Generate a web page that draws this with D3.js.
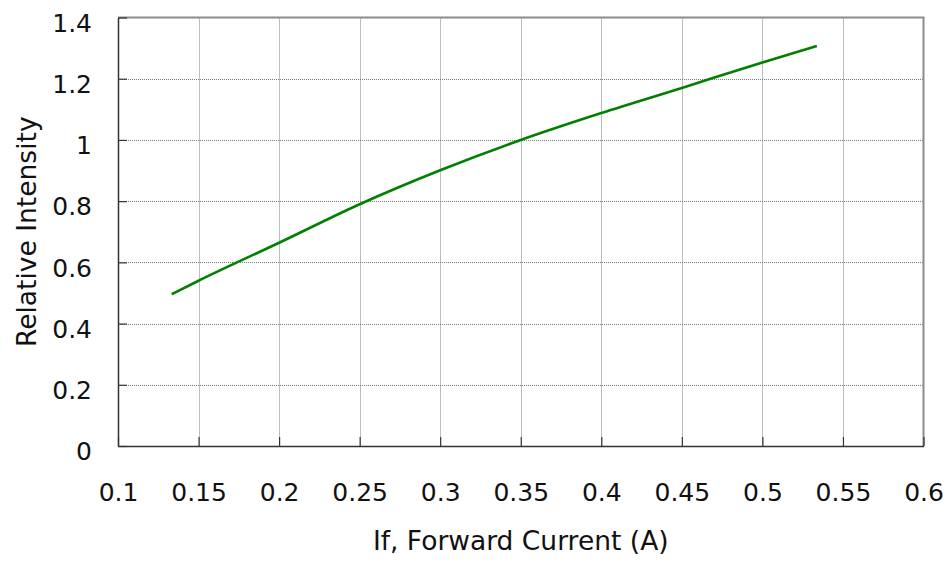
<!DOCTYPE html>
<html>
<head>
<meta charset="utf-8">
<script src="https://cdn.jsdelivr.net/npm/d3@7"></script>
<style>
  html, body { margin: 0; padding: 0; background: #fff; }
  svg { display: block; }
  text { font-family: "DejaVu Sans", Verdana, sans-serif; fill: #111; }
</style>
</head>
<body>
<svg id="chart" width="952" height="561"></svg>
<script>
// Forward current (A) vs. relative luminous intensity
const currentA = [0.1333, 0.15, 0.2, 0.25, 0.3, 0.35, 0.4, 0.45, 0.5, 0.5338];
const intensity = [0.496, 0.540, 0.664, 0.790, 0.901, 1.000, 1.088, 1.170, 1.253, 1.307];

const xTicks = [0.1, 0.15, 0.2, 0.25, 0.3, 0.35, 0.4, 0.45, 0.5, 0.55, 0.6];
const xTickLabels = ["0.1", "0.15", "0.2", "0.25", "0.3", "0.35", "0.4", "0.45", "0.5", "0.55", "0.6"];
const yTicks = [0, 0.2, 0.4, 0.6, 0.8, 1, 1.2, 1.4];
const yTickLabels = ["0", "0.2", "0.4", "0.6", "0.8", "1", "1.2", "1.4"];

const xTitle = "If, Forward Current (A)";
const yTitle = "Relative Intensity";

const svg = d3.select("#chart");
const plotLeft = 118, plotRight = 923.5, plotTop = 17.5, plotBottom = 446;

const x = d3.scaleLinear().domain([0.1, 0.6]).range([plotLeft, plotRight]);
const y = d3.scaleLinear().domain([0, 1.4]).range([plotBottom, plotTop]);

// dotted grid
const grid = svg.append("g");
grid.selectAll("line.gx").data(xTicks.slice(1, -1)).join("line")
  .attr("x1", d => Math.round(x(d)) + 0.5).attr("x2", d => Math.round(x(d)) + 0.5)
  .attr("y1", plotTop).attr("y2", plotBottom)
  .attr("stroke", "#7a7a7a").attr("stroke-width", 1).attr("stroke-dasharray", "1,1");
grid.selectAll("line.gy").data(yTicks.slice(1, -1)).join("line")
  .attr("y1", d => Math.round(y(d)) + 0.5).attr("y2", d => Math.round(y(d)) + 0.5)
  .attr("x1", plotLeft).attr("x2", plotRight)
  .attr("stroke", "#7a7a7a").attr("stroke-width", 1).attr("stroke-dasharray", "1,1");

// top and right frame
svg.append("path")
  .attr("d", `M${plotLeft},${plotTop}H${plotRight}V${plotBottom}`)
  .attr("fill", "none").attr("stroke", "#8c8c8c").attr("stroke-width", 2);

// axes with inward ticks
const xAxis = d3.axisBottom(x).tickValues(xTicks)
  .tickFormat((d, i) => xTickLabels[i]).tickSizeInner(-9).tickSizeOuter(0).tickPadding(0);
const yAxis = d3.axisLeft(y).tickValues(yTicks)
  .tickFormat((d, i) => yTickLabels[i]).tickSizeInner(-9).tickSizeOuter(0).tickPadding(0);

const gx = svg.append("g").attr("transform", `translate(0,${plotBottom})`).call(xAxis);
gx.select(".domain").attr("stroke", "#333").attr("stroke-width", 1.5);
gx.selectAll(".tick line").attr("stroke", "#333").attr("stroke-width", 1.2);
gx.selectAll(".tick text").attr("font-size", 25).attr("font-family", "DejaVu Sans")
  .attr("fill", "#111").attr("y", 0).attr("dy", 0)
  .attr("transform", "translate(0,55)");

const gy = svg.append("g").attr("transform", `translate(${plotLeft},0)`).call(yAxis);
gy.select(".domain").attr("stroke", "#333").attr("stroke-width", 1.5);
gy.selectAll(".tick line").attr("stroke", "#333").attr("stroke-width", 1.2);
gy.selectAll(".tick text").attr("font-size", 25).attr("font-family", "DejaVu Sans")
  .attr("fill", "#111").attr("x", -26).attr("dy", "0.55em");

// curve
const line = d3.line()
  .x((d, i) => x(currentA[i]))
  .y(d => y(d))
  .curve(d3.curveMonotoneX);
svg.append("path")
  .datum(intensity)
  .attr("d", line)
  .attr("fill", "none")
  .attr("stroke", "#008000")
  .attr("stroke-width", 2.6);

// titles
svg.append("text")
  .attr("x", (plotLeft + plotRight) / 2).attr("y", 550)
  .attr("text-anchor", "middle").attr("font-size", 26.5)
  .text(xTitle);
svg.append("text")
  .attr("transform", `translate(36,${(plotTop + plotBottom) / 2}) rotate(-90)`)
  .attr("text-anchor", "middle").attr("font-size", 26.5)
  .text(yTitle);
</script>
</body>
</html>
